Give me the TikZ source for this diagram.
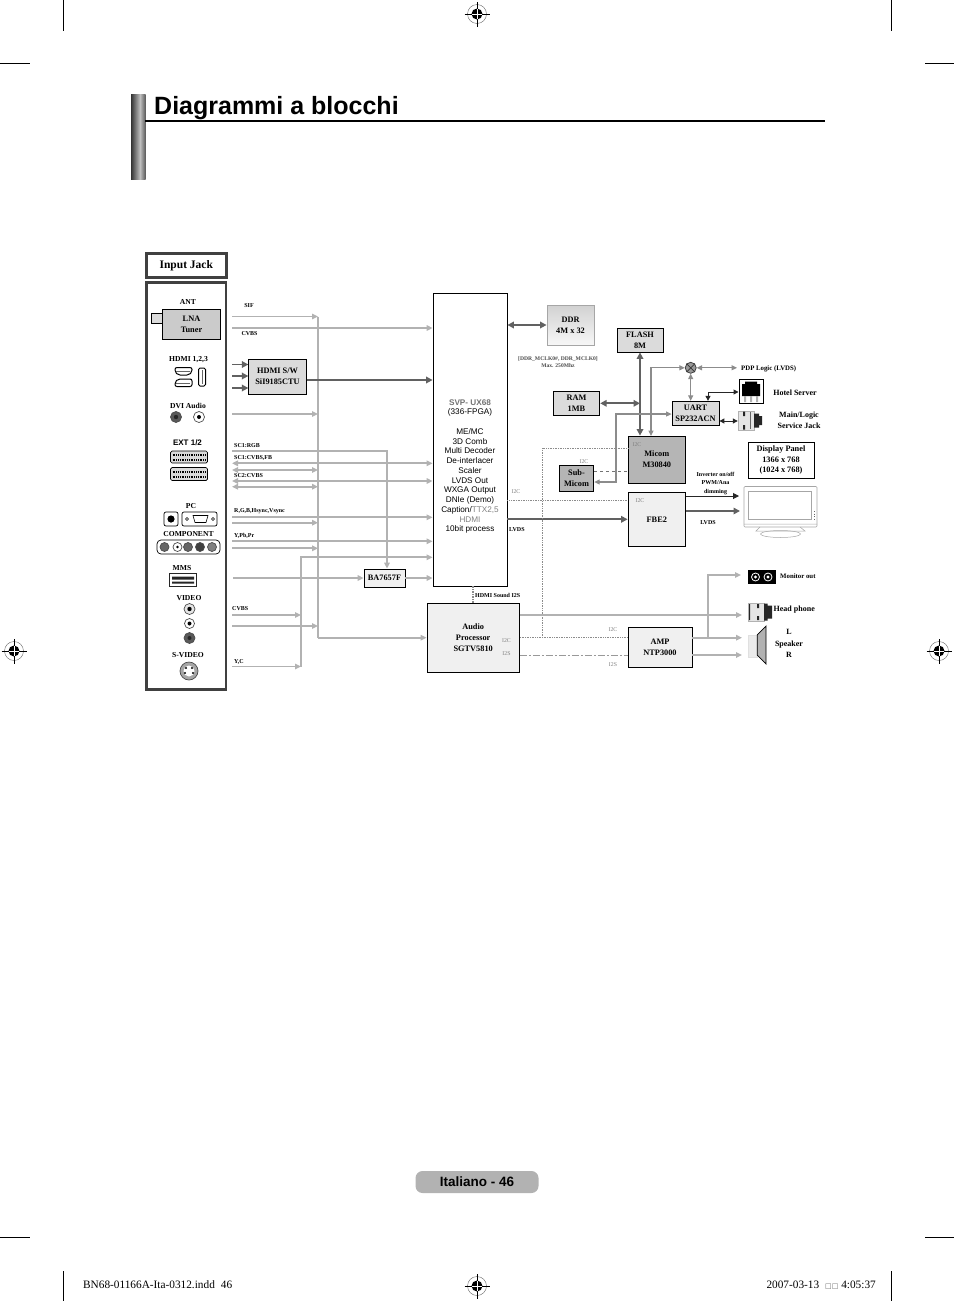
\documentclass[tikz,border=0pt]{standalone}
\usepackage{fontspec}
\setmainfont{Liberation Serif}
\setsansfont{Liberation Sans}
\newfontfamily\boxfont{DejaVu Sans}
\usetikzlibrary{arrows.meta,calc}
\definecolor{siggray}{gray}{0.70}
\definecolor{darksig}{gray}{0.38}
\definecolor{midsig}{gray}{0.55}
\definecolor{frame}{gray}{0.25}
\definecolor{lightfill}{gray}{0.94}
\definecolor{midfill}{gray}{0.86}
\definecolor{darkfill}{gray}{0.71}
\tikzset{
  block/.style ={draw, line width=0.8pt, align=center, inner sep=0pt,
    font=\bfseries\fontsize{8.3}{10.8}\selectfont},
  lab/.style ={inner sep=0pt, align=center, font=\bfseries\fontsize{6.8}{8}\selectfont},
  panellab/.style ={inner sep=0pt, align=center, font=\bfseries\fontsize{7.6}{9}\selectfont},
  faint/.style ={inner sep=0pt, text=black!50, font=\fontsize{5.8}{7}\selectfont},
  sig/.style ={draw=siggray, line width=1.7pt, -{Triangle[length=6pt,width=5.5pt]}},
  sigboth/.style ={sig, {Triangle[length=6pt,width=5.5pt]}-{Triangle[length=6pt,width=5.5pt]}},
  thicksig/.style ={draw=darksig, line width=2.2pt, -{Triangle[length=6.5pt,width=6.5pt]}},
  thickboth/.style ={thicksig, {Triangle[length=6.5pt,width=6.5pt]}-{Triangle[length=6.5pt,width=6.5pt]}},
  ctrl/.style ={draw=midsig, line width=1.2pt, {Triangle[length=5.5pt,width=5pt]}-{Triangle[length=5.5pt,width=5pt]}},
  blackboth/.style ={draw=black!85, line width=1pt, {Triangle[length=5pt,width=5pt]}-{Triangle[length=5pt,width=5pt]}},
  i2c/.style ={draw=black!45, line width=0.7pt, densely dotted},
  jack/.style ={circle, draw=black!70, line width=0.7pt, inner sep=0pt, minimum size=9pt},
  regmark/.pic ={
    \draw[black!60, line width=0.4pt] (0,0) circle (9.5pt);
    \fill (0,0) circle (5.5pt);
    \draw[black, line width=0.5pt] (-12.5pt,0) -- (12.5pt,0) (0,-12.5pt) -- (0,12.5pt);
    \draw[white, line width=0.5pt] (-5pt,0) -- (5pt,0) (0,-5pt) -- (0,5pt);
  }
}
\begin{document}
\begin{tikzpicture}[x=1pt,y=-1pt]
   \useasboundingbox (0,0) rectangle (954,1301);

   % page furniture
   \draw[line width=0.7pt] (63,0) -- (63,31) (891,0) -- (891,31) (63,1271) -- (63,1301) (891,1271) -- (891,1301);
   \draw[line width=0.7pt] (0,63) -- (30,63) (925,63) -- (954,63) (0,1237) -- (30,1237) (925,1237) -- (954,1237);
   \pic at (477,14) {regmark};
   \pic at (14,651) {regmark};
   \pic at (939,651) {regmark};
   \pic at (477,1286) {regmark};

   \shade[left color=black!80, right color=black!25] (131,94) rectangle (140,179);
   \shade[left color=black!25, right color=black!65] (140,94) rectangle (145.5,179);
   \draw[line width=1.7pt] (145,121) -- (825,121);
   \node[anchor=base west, inner sep=0pt, font=\sffamily\bfseries\fontsize{25}{28}\selectfont] (title) at (154,114) {Diagrammi a blocchi};

   \node[fill=black!30, rounded corners=7pt, minimum width=123pt, minimum height=22pt, inner sep=0pt, font=\sffamily\bfseries\fontsize{13.5}{15}\selectfont] (pageno) at (477,1182) {Italiano - 46};
   \node[anchor=base west, inner sep=0pt, font=\fontsize{11.3}{13}\selectfont] (indd) at (83,1288) {BN68-01166A-Ita-0312.indd\hspace{6pt}46};
   \node[anchor=base east, inner sep=0pt, font=\fontsize{11.3}{13}\selectfont] (stamp) at (876,1288) {2007-03-13\hspace{6pt}{\boxfont\fontsize{7}{8}\selectfont\color{black!60}□□} 4:05:37};

   % input side
   \node[draw=frame, line width=2.6pt, minimum width=80pt, minimum height=24pt, inner sep=0pt, font=\bfseries\fontsize{11.5}{13}\selectfont] (inputjack) at (186.3,265.5) {Input Jack};
   \draw[draw=frame, line width=2.6pt] (146.5,282.5) rectangle (226,689.5);

   \node[panellab] (ant) at (188,302) {ANT};
   \draw[line width=0.7pt, fill=midfill] (151,313) rectangle (162,323);
   \node[block, fill=darkfill!70!white, minimum width=58.5pt, minimum height=30.5pt] (tuner) at (191.5,324.5) {LNA\\Tuner};

   \node[panellab] (hdmilab) at (188.5,359.5) {HDMI 1,2,3};
   \draw[line width=1pt, rounded corners=2pt] (175,367.5) -- (192,367.5) -- (192,372) -- (189,375) -- (178,375) -- (175,372) -- cycle;
   \draw[line width=1pt, rounded corners=2pt] (175,382) -- (178,379) -- (189,379) -- (192,379) -- (192,386.5) -- (175,386.5) -- cycle;
   \draw[line width=1pt, rounded corners=1.5pt] (198.5,368) rectangle (205.5,386);
   \draw[black!60, line width=0.8pt] (176,371) -- (190,371) (176,383) -- (190,383) (202,370) -- (202,384);

   \node[panellab] (dvilab) at (188,406) {DVI Audio};
   \node[jack, minimum size=11pt, fill=black!65] (dvil) at (176,417) {};
   \fill[black!85] (dvil) circle (2.2pt);
   \node[jack, minimum size=11pt] (dvir) at (199,417) {};
   \fill (dvir) circle (2pt);

   \node[inner sep=0pt, font=\sffamily\bfseries\fontsize{8}{9}\selectfont] (extlab) at (187.5,443) {EXT 1/2};
   \draw[fill=black!15, line width=0.7pt, rounded corners=1.5pt] (170.5,451) rectangle (207.5,463);
   \draw[fill=black!15, line width=0.7pt, rounded corners=1.5pt] (170.5,467.5) rectangle (207.5,480.5);
   \draw[line width=2pt, dash pattern=on 1pt off 0.8pt] (172.5,454.5) -- (205.5,454.5) (172.5,459.5) -- (205.5,459.5) (172.5,471.5) -- (205.5,471.5) (172.5,476.5) -- (205.5,476.5);

   \node[panellab] (pclab) at (191,506) {PC};
   \draw[line width=0.7pt, rounded corners=2pt] (164,512) rectangle (178,526);
   \fill (171,519) circle (3.6pt);
   \draw[line width=0.7pt, rounded corners=2pt] (182,512) rectangle (217,526);
   \draw[line width=0.6pt] (193,515.5) -- (208,515.5) -- (206,522.5) -- (195,522.5) -- cycle;
   \draw[line width=0.6pt] (187,519) circle (1.5pt) (213,519) circle (1.5pt);

   \node[panellab] (complab) at (188.5,534) {COMPONENT};
   \draw[line width=0.7pt, rounded corners=4pt] (157,540) rectangle (220,554);
   \node[jack, fill=black!60] (compa) at (164.5,547) {};
   \node[jack] (compb) at (177.5,547) {};
   \fill (compb) circle (1.3pt);
   \node[jack, fill=black!60] (compc) at (188,547) {};
   \node[jack, fill=black!75] (compd) at (200,547) {};
   \node[jack, fill=black!50] (compe) at (212,547) {};

   \node[panellab] (mmslab) at (182,568) {MMS};
   \draw[fill=white, line width=1.1pt, draw=black!85] (169.5,573.5) rectangle (196.5,586.5);
   \fill[black!85] (172,576.5) rectangle (194,579.5) (172,581.5) rectangle (194,583.5);

   \node[panellab] (videolab) at (189,598) {VIDEO};
   \node[jack, minimum size=11pt, fill=black!10] (videoa) at (189.5,609) {};
   \fill (videoa) circle (2.2pt);
   \node[jack, minimum size=10pt] (videob) at (189.5,623.5) {};
   \fill (videob) circle (2pt);
   \node[jack, minimum size=11pt, fill=black!65] (videoc) at (189.5,638) {};
   \fill[black!85] (videoc) circle (2pt);

   \node[panellab] (svideolab) at (188,655) {S-VIDEO};
   \node[jack, minimum size=18pt, fill=black!35] (svideo) at (189,671) {};
   \fill[white] (189,671) circle (5.5pt);
   \fill (186,668) circle (1.1pt) (192,668) circle (1.1pt) (185,673) circle (1.1pt) (193,673) circle (1.1pt);

   % main blocks
   \node[block, font=\sffamily\fontsize{8.2}{9.75}\selectfont, fill=white, minimum width=74pt, minimum height=293pt] (svp) at (470,439.5) {\\[50pt]{\bfseries\color{black!55}SVP- UX68}\\(336-FPGA)\\[9.75pt]ME/MC\\3D Comb\\Multi Decoder\\De-interlacer\\Scaler\\LVDS Out\\WXGA Output\\DNIe (Demo)\\Caption/{\color{black!50}TTX2,5}\\{\color{black!50}HDMI}\\10bit process};
   \node[block, fill=midfill, minimum width=57.5pt, minimum height=35pt] (hdmisw) at (277.5,376.5) {HDMI S/W\\SiI9185CTU};
   \node[block, fill=lightfill, minimum width=41pt, minimum height=18pt] (ba) at (384.5,578) {BA7657F};
   \node[block, fill=lightfill, minimum width=92.5pt, minimum height=69pt] (audio) at (473.2,637.5) {Audio\\Processor\\SGTV5810};
   \node[block, draw=black!35, top color=black!18, bottom color=black!3, minimum width=47pt, minimum height=40pt] (ddr) at (570.5,325) {DDR\\4M x 32};
   \node[block, fill=midfill, minimum width=46.5pt, minimum height=24pt] (ram) at (576.5,403.3) {RAM\\1MB};
   \node[block, fill=midfill, minimum width=46pt, minimum height=24pt] (flash) at (640,340) {FLASH\\8M};
   \node[block, fill=darkfill, minimum width=57pt, minimum height=47pt] (micom) at (656.8,459.5) {Micom\\M30840};
   \node[block, fill=darkfill, minimum width=34.5pt, minimum height=26pt] (submicom) at (576.5,478.3) {Sub-\\Micom};
   \node[block, fill=lightfill, minimum width=57.5pt, minimum height=54.5pt] (fbe) at (656.8,519.3) {FBE2};
   \node[block, fill=midfill, minimum width=47pt, minimum height=24.5pt] (uart) at (695.5,413.5) {UART\\SP232ACN};
   \node[block, minimum width=66pt, minimum height=36pt, fill=white] (display) at (781,460) {Display Panel\\1366 x 768\\(1024 x 768)};
   \node[block, fill=lightfill, minimum width=64pt, minimum height=40pt] (amp) at (660,647) {AMP\\NTP3000};
   \node[circle, draw=black!75, line width=0.8pt, fill=black!40, minimum size=11pt, inner sep=0pt] (mixer) at (690.7,367.8) {};
   \draw[black!80, line width=0.7pt] (mixer.north west) -- (mixer.south east) (mixer.north east) -- (mixer.south west);

   % output icons
   \node[inner sep=0pt, minimum width=24pt, minimum height=24pt, draw, line width=1pt] (hotel) at (751,391) {};
   \fill (742,384) -- (745,384) -- (745,381.5) -- (757,381.5) -- (757,384) -- (760,384) -- (760,396) -- (742,396) -- cycle;
   \fill[black!30] (744,396) rectangle (746,402) (750,396) rectangle (752,402) (756,396) rectangle (758,402);
   \node[inner sep=0pt, minimum width=16pt, minimum height=19pt, fill=black!10, draw=black!30, line width=0.4pt] (service) at (746,420.5) {};
   \fill[black!85] (754,413.5) rectangle (759,427.5) (759,416) rectangle (762,425);
   \fill[black!85] (743,411.5) rectangle (745,416) (743,425) rectangle (745,429.5);
   \draw[black!60, line width=0.8pt] (750,412) -- (750,429);
   \node[inner sep=0pt, minimum width=28pt, minimum height=14pt, fill=black] (monitor) at (762,577) {};
   \draw[white, line width=0.8pt] (755.5,577) circle (4pt) (768,577) circle (4pt);
   \fill[white] (755.5,577) circle (1.6pt) (768,577) circle (1.6pt);
   \node[inner sep=0pt, minimum width=16pt, minimum height=18pt, fill=black!10, draw=black!30, line width=0.4pt] (phone) at (756,612) {};
   \fill[black!85] (764,603.5) rectangle (767.5,620.5) (767.5,605.5) rectangle (772,618.5);
   \fill[black!85] (749,604) rectangle (750,620) (757,604) rectangle (759,608) (757,616) rectangle (759,620);
   \node[inner sep=0pt, minimum width=9pt, minimum height=22pt, fill=black!8, draw=black!12, line width=0.3pt] (spkbody) at (752.7,646) {};
   \draw[line width=0.7pt, fill=black!30] (757.2,635) -- (766,626) -- (766,664) -- (757.2,655) -- cycle;

   % TV
   \draw[black!35, line width=0.6pt, rounded corners=1pt] (744,486.5) rectangle (817,527);
   \draw[black!35, line width=0.6pt] (748.5,491) rectangle (811.5,519);
   \draw[black!35, line width=0.5pt] (744,524) -- (817,524) (760,527) -- (756,531) -- (805,531) -- (800,527);
   \draw[black!35, line width=0.5pt] (780.5,534) ellipse (20pt and 3.5pt);
   \draw[black!60, line width=0.6pt, dotted] (814,511) -- (814,520);

   % free ends of the signal lines
   \coordinate (sifin) at (232,316.5);
   \coordinate (cvbsin) at (232,328);
   \coordinate (hdmia) at (232,364.5);
   \coordinate (hdmib) at (232,376);
   \coordinate (hdmic) at (232,388);
   \coordinate (dviin) at (232,414);
   \coordinate (rgbin) at (232,451);
   \coordinate (rgbturn) at (387,451);
   \coordinate (scaa) at (232,463.3);
   \coordinate (scab) at (232,470);
   \coordinate (scba) at (232,481);
   \coordinate (scbb) at (232,486.7);
   \coordinate (pca) at (232,517.3);
   \coordinate (pcb) at (232,522.7);
   \coordinate (compina) at (232,541.3);
   \coordinate (compinb) at (232,548.3);
   \coordinate (mmsin) at (233,578);
   \coordinate (vida) at (232,615);
   \coordinate (vidb) at (232,626);
   \coordinate (yc) at (232,666.5);
   \coordinate (sbus) at (318,316.5);
   \coordinate (sbusend) at (318,637.7);
   \coordinate (ybus) at (301,557.3);
   \coordinate (ybusend) at (301,666.5);

   \draw[sig] (sifin) -- (sifin -| sbus);
   \draw[sig, -] (sbus) -- (sbusend);
   \draw[sig] (sbusend) -- (sbusend -| audio.west);
   \draw[sig] (cvbsin) -- (cvbsin -| svp.west);
   \draw[sig] (dviin) -- (dviin -| sbus);
   \draw[sig] (rgbin) -- (rgbturn) -- (rgbturn |- ba.north);
   \draw[sigboth] (scaa) -- (scaa -| svp.west);
   \draw[sigboth] (scab) -- (scab -| sbus);
   \draw[sigboth] (scba) -- (scba -| svp.west);
   \draw[sigboth] (scbb) -- (scbb -| sbus);
   \draw[sig] (pca) -- (pca -| svp.west);
   \draw[sig] (pcb) -- (pcb -| sbus);
   \draw[sig] (compina) -- (compina -| svp.west);
   \draw[sig] (compinb) -- (compinb -| sbus);
   \draw[sig] (mmsin) -- (ba.west);
   \draw[sig] (ba.east) -- (ba.east -| svp.west);
   \draw[sig] (ybusend) -- (ybus) -- (ybus -| svp.west);
   \draw[sig] (vida) -- (vida -| ybus);
   \draw[sig] (vidb) -- (vidb -| sbus);
   \draw[sig] (yc) -- (yc -| ybus);
   \draw[thicksig, line width=1.7pt] (hdmia) -- (hdmia -| hdmisw.west);
   \draw[thicksig, line width=1.7pt] (hdmib) -- (hdmib -| hdmisw.west);
   \draw[thicksig, line width=1.7pt] (hdmic) -- (hdmic -| hdmisw.west);
   \draw[thicksig] (hdmisw.east |- 0,380) -- (svp.west |- 0,380);

   % right side
   \draw[thickboth] (svp.east |- ddr.west) -- (ddr.west);
   \draw[thickboth] (flash.south) -- (flash.south |- micom.north);
   \draw[thickboth] (ram.east) -- (ram.east -| flash.south);
   \coordinate (micomup) at (651,436);
   \coordinate (uartfeed) at (616,414);
   \coordinate (hotelturn) at (708,392);
   \draw[ctrl] (micomup) |- (mixer.west);
   \draw[ctrl] (mixer.south) -- (mixer.south |- uart.north);
   \draw[ctrl] (mixer.east) -- (737,367.8);
   \draw[ctrl] (submicom.east |- 0,482) -| (uartfeed) -- (uartfeed -| uart.west);
   \draw[blackboth] (uart.north -| hotelturn) -- (hotelturn) -- (hotel.west |- hotelturn);
   \draw[blackboth] (uart.east |- 0,421) -- (service.west |- 0,421);

   \draw[thicksig] (svp.east |- fbe.west) -- (fbe.west);
   \draw[draw=black!85, line width=1pt, -{Triangle[length=6pt,width=6pt]}] (fbe.east |- 0,496) -- (739,496);
   \draw[thicksig, line width=1.7pt] (fbe.east |- 0,511) -- (740,511);

   \draw[i2c] (svp.east |- 0,500) -- (fbe.west |- 0,500);
   \draw[i2c] (audio.east |- 0,637.7) -- (amp.west |- 0,637.7);
   \draw[i2c] (542,637.7) -- (542,448) -- (micom.west |- 0,448);
   \draw[draw=black!55, line width=0.7pt, dashed] (submicom.east |- 0,471.7) -- (micom.west |- 0,471.7);
   \draw[draw=black!40, line width=1pt, dash pattern=on 7pt off 2pt on 2pt off 2pt] (audio.east |- 0,655) -- (amp.west |- 0,655);
   \draw[draw=black!45, line width=1.5pt, densely dotted] (svp.south -| audio.north) -- (audio.north);

   \coordinate (monturn) at (708,575);
   \coordinate (audiotap) at (708,637.7);
   \coordinate (outend) at (742,637.7);
   \coordinate (outendb) at (742,655);
   \draw[sig] (audio.east |- 0,615) -- (742,615);
   \draw[sig] (amp.east |- outend) -- (outend);
   \draw[sig] (amp.east |- outendb) -- (outendb);
   \draw[sig] (audiotap) -- (monturn) -- (741,575);

   % signal and output labels
   \node[lab, font=\bfseries\fontsize{6}{7}\selectfont] (siflab) at (249,306) {SIF};
   \node[lab, font=\bfseries\fontsize{6}{7}\selectfont] (cvbslab) at (249.5,334) {CVBS};
   \node[lab, font=\bfseries\fontsize{6}{7}\selectfont, anchor=west] (sc1rgb) at (234,446) {SC1:RGB};
   \node[lab, font=\bfseries\fontsize{6}{7}\selectfont, anchor=west] (sc1fb) at (234,458) {SC1:CVBS,FB};
   \node[lab, font=\bfseries\fontsize{6}{7}\selectfont, anchor=west] (sc2) at (234,476) {SC2:CVBS};
   \node[lab, font=\bfseries\fontsize{6}{7}\selectfont, anchor=west] (rgbh) at (234,511.5) {R,G,B,Hsync,Vsync};
   \node[lab, font=\bfseries\fontsize{6}{7}\selectfont, anchor=west] (ypbpr) at (234,536) {Y,Pb,Pr};
   \node[lab, font=\bfseries\fontsize{6}{7}\selectfont, anchor=west] (cvbsb) at (232,608.5) {CVBS};
   \node[lab, font=\bfseries\fontsize{6}{7}\selectfont, anchor=west] (yclab) at (234,661.5) {Y,C};
   \node[lab, anchor=west, font=\bfseries\fontsize{6}{7}\selectfont] (hdmisound) at (475,595) {HDMI Sound I2S};
   \node[lab, font=\bfseries\fontsize{5.6}{7}\selectfont, text=black!70] (ddrclk) at (558,362) {[DDR\_MCLK0\#, DDR\_MCLK0]\\Max. 250Mhz};
   \node[lab, anchor=west, font=\bfseries\fontsize{6}{7}\selectfont] (lvdsa) at (509,530) {LVDS};
   \node[lab, font=\bfseries\fontsize{6}{7}\selectfont] (lvdsb) at (708,523) {LVDS};
   \node[lab, font=\bfseries\fontsize{6}{8.3}\selectfont] (inverter) at (715.5,483.5) {Inverter on/off\\PWM/Ana\\dimming};
   \node[lab, anchor=west] (pdp) at (741,368.5) {PDP Logic (LVDS)};
   \node[lab, font=\bfseries\fontsize{8}{10.5}\selectfont] (hotellab) at (795,392.5) {Hotel Server};
   \node[lab, font=\bfseries\fontsize{8}{11}\selectfont] (mainlab) at (799,420) {Main/Logic\\Service Jack};
   \node[lab, anchor=west] (monlab) at (780,576.5) {Monitor out};
   \node[lab, font=\bfseries\fontsize{8}{10}\selectfont, anchor=west] (phonelab) at (773.5,610) {Head phone};
   \node[lab, font=\bfseries\fontsize{8}{11.3}\selectfont] (spklab) at (789,643.5) {L\\Speaker\\R};
   \node[faint] (i2ca) at (516,492) {I2C};
   \node[faint] (i2cb) at (584,462) {I2C};
   \node[faint] (i2cc) at (637,445) {I2C};
   \node[faint] (i2cd) at (640,501) {I2C};
   \node[faint] (i2ce) at (506.5,641) {I2C};
   \node[faint] (i2sa) at (506.5,653.5) {I2S};
   \node[faint] (i2cf) at (613,629.5) {I2C};
   \node[faint] (i2sb) at (613,664.5) {I2S};
 \end{tikzpicture}
\end{document}
